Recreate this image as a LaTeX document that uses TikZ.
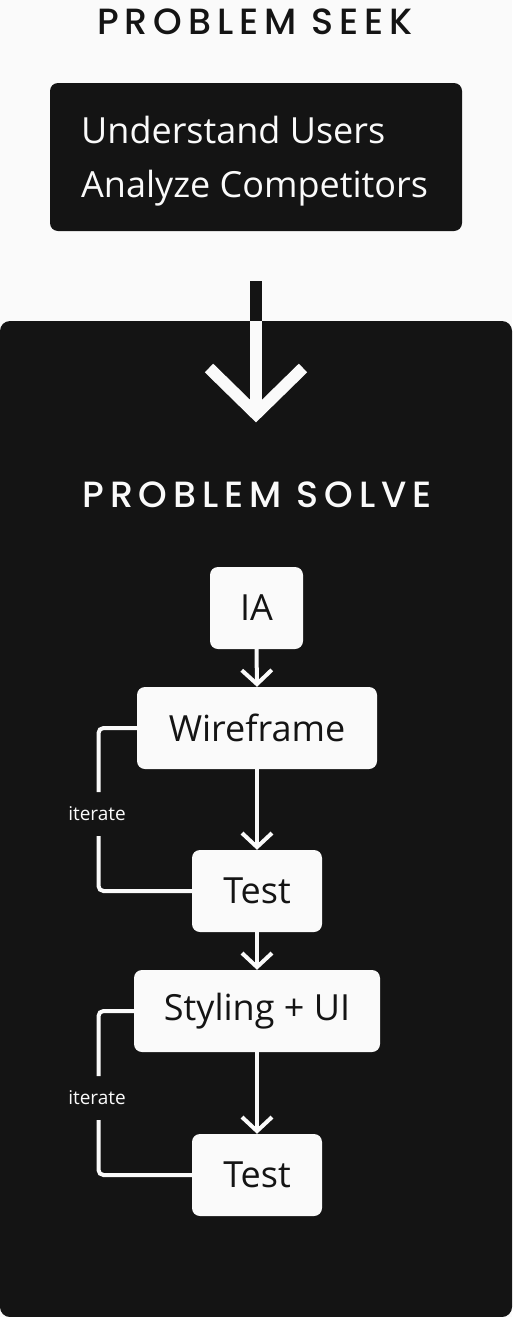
\documentclass[tikz,border=0pt]{standalone}
\usepackage{fontspec}
\setmainfont{Open Sans}
\newfontfamily\titlefont{Poppins}[UprightFont=* Medium, LetterSpace=16]
\usetikzlibrary{arrows.meta}
\definecolor{ink}{HTML}{141414}
\definecolor{paper}{HTML}{FAFAFA}
\tikzset{
  stepbox/.style={fill=paper, rounded corners=8pt, minimum height=82pt, inner sep=0pt,
    text=ink, font=\fontsize{36}{40}\selectfont},
  flow/.style={draw=paper, line width=4pt, -{Straight Barb[length=14pt, width=30pt, line join=miter]}},
  loop/.style={draw=paper, line width=4pt, rounded corners=5pt},
  titletext/.style={font=\titlefont\fontsize{36.5}{40}\selectfont},
  seekline/.style={text=paper, anchor=base west, inner sep=0pt, font=\fontsize{36}{40}\selectfont},
  itlabel/.style={text=paper, font=\fontsize{19}{22}\selectfont, inner sep=0pt}
}
\begin{document}
\begin{tikzpicture}[x=1pt, y=-1pt]
\useasboundingbox (0,0) rectangle (512,1317);
\fill[paper] (0,0) rectangle (512,1317);
% top
\node[titletext, text=ink] (seektitle) at (255,22) {PROBLEM SEEK};
\node[fill=ink, rounded corners=8pt, minimum width=412pt, minimum height=148pt] (seek) at (256,157) {};
\node[seekline] (users) at (81,143) {Understand Users};
\node[seekline] (comp) at (81,197) {Analyze Competitors};
% panel
\fill[ink, rounded corners=10pt] (0,321) rectangle (512,1317);
\coordinate (bigtop) at (256,281);
\coordinate (panelTop) at (256,321);
\coordinate (bigtip) at (256,414);
\draw[ink, line width=12pt] (bigtop) -- (panelTop);
\draw[paper, line width=12pt] (panelTop) -- (bigtip);
\draw[paper, line width=12pt, line join=miter] (209,368) -- (bigtip) -- (303,368);
\node[titletext, text=paper] (solvetitle) at (257,495) {PROBLEM SOLVE};
% steps
\node[stepbox, minimum width=93pt] (ia) at (256.5,608) {IA};
\node[stepbox, minimum width=240pt] (wire) at (257,728) {Wireframe};
\node[stepbox, minimum width=130pt] (test1) at (257,891) {Test};
\node[stepbox, minimum width=246pt] (style) at (257,1011) {Styling + UI};
\node[stepbox, minimum width=130pt] (test2) at (257,1175) {Test};
% flow
\draw[flow] (ia.south) -- (wire.north);
\draw[flow] (wire.south) -- (test1.north);
\draw[flow] (test1.south) -- (style.north);
\draw[flow] (style.south) -- (test2.north);
% iterate loops
\node[itlabel] (it1) at (97,814) {iterate};
\node[itlabel] (it2) at (97,1098) {iterate};
\coordinate (g1a) at (98.5,792);
\coordinate (g1b) at (98.5,836);
\coordinate (g2a) at (98.5,1076);
\coordinate (g2b) at (98.5,1120);
\draw[loop] (wire.west) -| (g1a);
\draw[loop] (g1b) |- (test1.west);
\draw[loop] (style.west) -| (g2a);
\draw[loop] (g2b) |- (test2.west);
\end{tikzpicture}
\end{document}
